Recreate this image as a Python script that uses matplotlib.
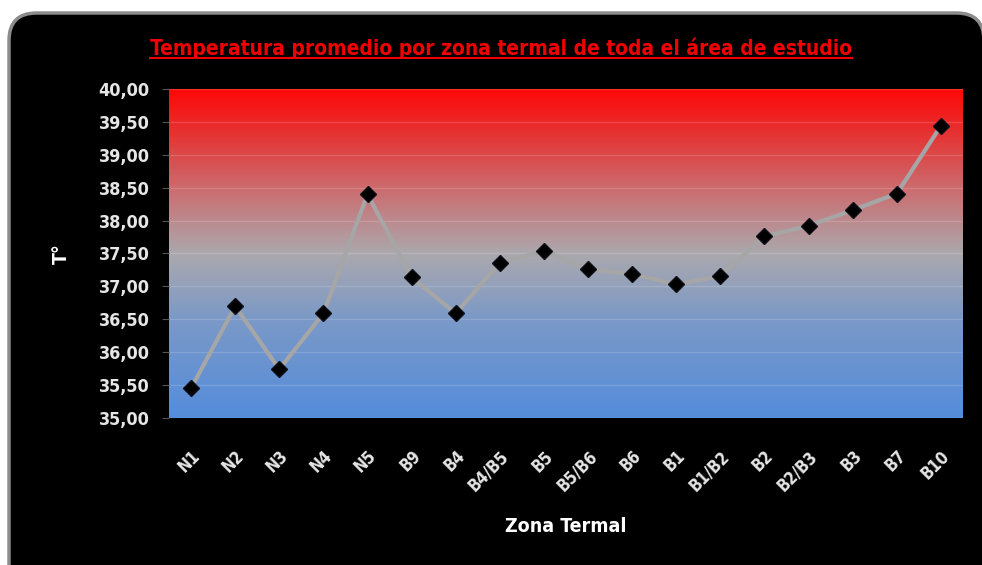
import numpy as np
import matplotlib.pyplot as plt
from matplotlib.colors import LinearSegmentedColormap
from matplotlib.patches import FancyBboxPatch
from matplotlib.lines import Line2D
from matplotlib.ticker import MultipleLocator, FuncFormatter

zonas = ["N1", "N2", "N3", "N4", "N5", "B9", "B4", "B4/B5", "B5", "B5/B6",
         "B6", "B1", "B1/B2", "B2", "B2/B3", "B3", "B7", "B10"]
temperatura = [35.45, 36.70, 35.74, 36.59, 38.40, 37.14, 36.59, 37.36, 37.54,
               37.26, 37.19, 37.03, 37.16, 37.76, 37.92, 38.16, 38.41, 39.44]

plt.rcParams["font.family"] = ["Liberation Sans Narrow", "DejaVu Sans"]
plt.rcParams["font.stretch"] = "condensed"

W, H = 982, 565
fig = plt.figure(figsize=(W / 100, H / 100), dpi=100, facecolor="white")

# marco negro redondeado detrás de todo
marco = FancyBboxPatch((9 / W, -40 / H), 975 / W, (H + 40 - 13) / H,
                       boxstyle="round,pad=0,rounding_size=0.028",
                       transform=fig.transFigure, facecolor="black",
                       edgecolor="#8c8c8c", linewidth=2.5, mutation_aspect=W / H,
                       zorder=-10)
fig.patches.append(marco)

ax = fig.add_axes([169 / W, 1 - 418 / H, 794 / W, 329 / H])
ax.set_zorder(5)
ax.set_facecolor("black")

# fondo degradado rojo -> gris -> azul
cmap = LinearSegmentedColormap.from_list("termal", [
    (0.00, (0.33, 0.55, 0.86)),
    (0.30, (0.48, 0.60, 0.78)),
    (0.50, (0.67, 0.66, 0.68)),
    (0.70, (0.80, 0.42, 0.43)),
    (0.88, (0.91, 0.18, 0.18)),
    (1.00, (1.00, 0.03, 0.03)),
])
grad = np.linspace(0, 1, 256).reshape(-1, 1)
ax.imshow(grad, cmap=cmap, origin="lower", aspect="auto",
          extent=[-0.5, len(zonas) - 0.5, 35, 40], zorder=0)

x = np.arange(len(zonas))
ax.plot(x, temperatura, color="#a6a6a6", linewidth=3, zorder=3)
ax.plot(x, temperatura, linestyle="none", marker="D", markersize=8.5,
        markerfacecolor="black", markeredgecolor="#101018", zorder=4)

ax.set_xlim(-0.5, len(zonas) - 0.5)
ax.set_ylim(35, 40)
ax.yaxis.set_major_locator(MultipleLocator(0.5))
ax.yaxis.set_major_formatter(FuncFormatter(lambda v, p: f"{v:.2f}".replace(".", ",")))
ax.grid(axis="y", color="white", alpha=0.15, linewidth=1)
ax.set_axisbelow(False)

ax.set_xticks(x)
ax.set_xticklabels(zonas, rotation=45, ha="right", rotation_mode="anchor")
ax.tick_params(axis="x", length=0, pad=21, colors="#e6e6e6", labelsize=12)
ax.tick_params(axis="y", length=5, color="#555555", colors="#e6e6e6", labelsize=13, pad=9)
for lbl in ax.get_xticklabels() + ax.get_yticklabels():
    lbl.set_fontweight("bold")
for s in ax.spines.values():
    s.set_visible(False)

ax.set_xlabel("Zona Termal", color="white", fontsize=14, fontweight="bold", labelpad=16)
ax.set_ylabel("T°", color="white", fontsize=14, fontweight="bold", labelpad=20)

titulo = fig.text(0.510, 0.915, "Temperatura promedio por zona termal de toda el área de estudio",
                  ha="center", va="center", color="#f00000", fontsize=15, fontweight="bold")

fig.canvas.draw()
bb = titulo.get_window_extent().transformed(fig.transFigure.inverted())
fig.add_artist(Line2D([bb.x0, bb.x1], [bb.y0 + 0.001, bb.y0 + 0.001],
                      transform=fig.transFigure, color="#f00000", linewidth=1.5))

fig.savefig("out.png", dpi=100, facecolor="white")
